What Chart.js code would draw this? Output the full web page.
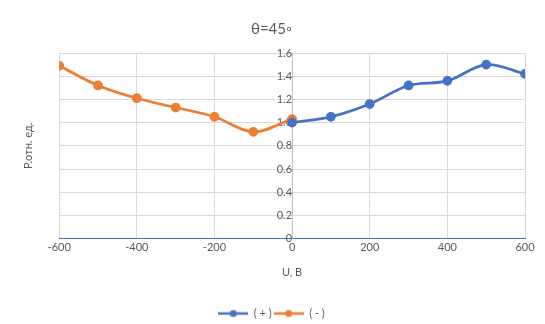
<!DOCTYPE html>
<html>
<head>
<meta charset="utf-8">
<script src="https://cdn.jsdelivr.net/npm/chart.js@4.4.4/dist/chart.umd.min.js"></script>
<style>
  html, body { margin: 0; padding: 0; background: #fff; }
  #wrap { width: 545px; height: 324px; }
</style>
</head>
<body>
<div id="wrap"><canvas id="chart"></canvas></div>
<script>
// voltage steps and relative intensity for both polarities
const voltsPos = [0, 100, 200, 300, 400, 500, 600];
const relPos = [1.0, 1.05, 1.16, 1.32, 1.36, 1.50, 1.42];
const voltsNeg = [-600, -500, -400, -300, -200, -100, 0];
const relNeg = [1.49, 1.32, 1.21, 1.13, 1.05, 0.92, 1.03];
const xTicks = [-600, -400, -200, 0, 200, 400, 600];
const yTicks = [0, 0.2, 0.4, 0.6, 0.8, 1.0, 1.2, 1.4, 1.6];

const BLUE = '#4472c4';
const ORANGE = '#ed7d31';
const TEXT = '#595959';
const GRID = '#d9d9d9';
const FONT = 'Lato, "Open Sans", sans-serif';

const toPoints = (xs, ys) => xs.map((x, i) => ({ x, y: ys[i] }));

// little line-with-dot swatch for the legend
function swatch(color) {
  const c = document.createElement('canvas');
  c.width = 30; c.height = 10;
  const g = c.getContext('2d');
  g.strokeStyle = color; g.lineWidth = 2.5;
  g.beginPath(); g.moveTo(0, 5); g.lineTo(30, 5); g.stroke();
  g.fillStyle = color;
  g.beginPath(); g.arc(15, 5, 3.5, 0, Math.PI * 2); g.fill();
  return c;
}

const series = [
  { label: '( + )', xs: voltsPos, ys: relPos, color: BLUE },
  { label: '( - )', xs: voltsNeg, ys: relNeg, color: ORANGE },
];

new Chart(document.getElementById('chart'), {
  type: 'scatter',
  data: {
    datasets: series.map(s => ({
      label: s.label,
      data: toPoints(s.xs, s.ys),
      showLine: true,
      borderColor: s.color,
      backgroundColor: s.color,
      borderWidth: 2.75,
      pointRadius: 3.5,
      pointHoverRadius: 3.5,
      tension: 0.35,
      pointStyle: 'circle',
      legendSwatch: swatch(s.color),
    })),
  },
  options: {
    responsive: true,
    maintainAspectRatio: false,
    animation: false,
    layout: { padding: { left: 18, right: 20, top: 4, bottom: -5 } },
    plugins: {
      tooltip: { enabled: false },
      title: {
        display: true,
        text: 'θ=45◦',
        color: TEXT,
        font: { family: FONT, size: 15, weight: 'normal' },
        padding: { top: 16, bottom: 15 },
      },
      legend: {
        position: 'bottom',
        labels: {
          color: TEXT,
          font: { family: FONT, size: 11 },
          usePointStyle: true,
          pointStyleWidth: 30,
          boxHeight: 10,
          padding: 2,
          generateLabels(chart) {
            return chart.data.datasets.map((d, i) => ({
              text: d.label,
              fontColor: TEXT,
              pointStyle: d.legendSwatch,
              datasetIndex: i,
              hidden: false,
              lineWidth: 0,
            }));
          },
        },
      },
    },
    scales: {
      x: {
        type: 'linear',
        min: -600,
        max: 600,
        afterBuildTicks: axis => { axis.ticks = xTicks.map(v => ({ value: v })); },
        grid: { color: GRID, drawTicks: false },
        border: { color: BLUE, width: 1 },
        ticks: { color: TEXT, font: { family: FONT, size: 11 }, padding: 2 },
        title: {
          display: true,
          text: 'U, В',
          color: TEXT,
          font: { family: FONT, size: 11 },
          padding: { top: 10, bottom: 27 },
        },
      },
      y: {
        min: 0,
        max: 1.6,
        position: { x: 0 },
        afterBuildTicks: axis => { axis.ticks = yTicks.map(v => ({ value: v })); },
        grid: { color: GRID, drawTicks: false },
        border: { color: '#bfbfbf' },
        ticks: { color: TEXT, font: { family: FONT, size: 11 }, padding: 3 },
      },
      // holds only the vertical axis caption on the far left
      yCaption: {
        type: 'linear',
        position: 'left',
        min: 0,
        max: 1,
        grid: { display: false },
        border: { display: false },
        ticks: { display: false },
        title: {
          display: true,
          text: 'Р.отн. ед.',
          color: TEXT,
          font: { family: FONT, size: 11 },
          padding: { top: 4, bottom: 16 },
        },
      },
    },
  },
});
</script>
</body>
</html>
